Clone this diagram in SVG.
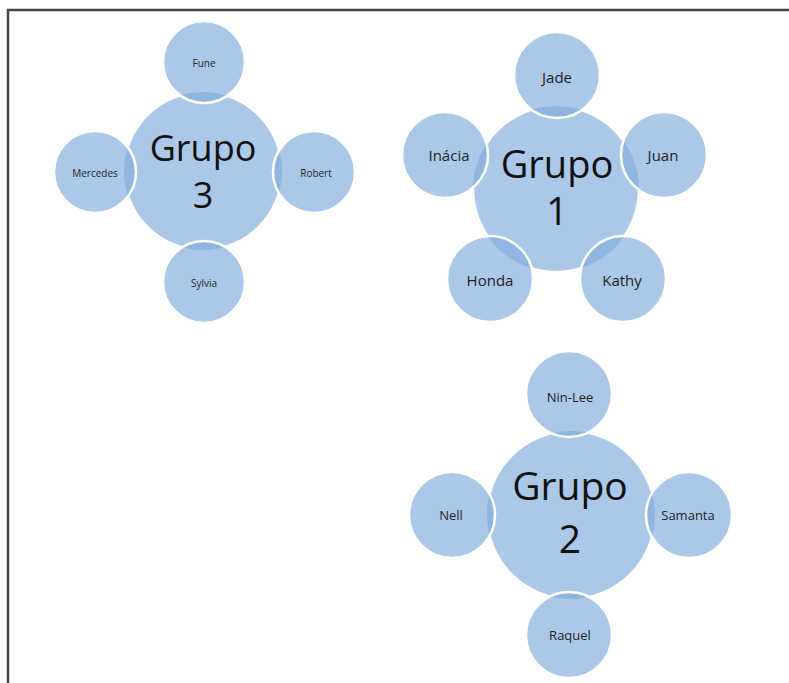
<svg xmlns="http://www.w3.org/2000/svg" width="789" height="683" viewBox="0 0 789 683">
<style>
.hub{fill:#abc8e9;stroke:#ffffff;stroke-width:2.5}
.sat{fill:#abc8e9}
.lens{fill:#8fb5e0}
.ring{fill:none;stroke:#ffffff;stroke-width:2.5}
.t{font-family:"Open Sans","Noto Sans",sans-serif;fill:#1e1e1e;text-anchor:middle}
.big{font-family:"Open Sans","Noto Sans",sans-serif;fill:#111;text-anchor:middle}
.lbl{dominant-baseline:central}
</style>
<defs>
<clipPath id="c3"><circle cx="203" cy="171" r="79"/></clipPath>
<clipPath id="c1"><circle cx="556" cy="189" r="83"/></clipPath>
<clipPath id="c2"><circle cx="571" cy="515" r="84"/></clipPath>
</defs>
<rect width="789" height="683" fill="#ffffff"/>
<path d="M8,683 V10 H789" fill="none" stroke="#444" stroke-width="2.5"/>
<g id="connectors"/>

<!-- Grupo 3 -->
<g id="grupo3">
<circle class="hub" cx="203" cy="171" r="79"/>
<text class="big" x="203" y="161" font-size="36">Grupo</text>
<text class="big" x="203" y="208" font-size="36">3</text>
</g>
<g id="fune"><circle class="sat" cx="204" cy="62" r="41"/><circle class="lens" cx="204" cy="62" r="41" clip-path="url(#c3)"/><circle class="ring" cx="204" cy="62" r="41"/><text class="t lbl" x="204" y="63" font-size="10">Fune</text></g>
<g id="mercedes"><circle class="sat" cx="95" cy="172" r="41"/><circle class="lens" cx="95" cy="172" r="41" clip-path="url(#c3)"/><circle class="ring" cx="95" cy="172" r="41"/><text class="t lbl" x="95" y="173" font-size="10">Mercedes</text></g>
<g id="robert"><circle class="sat" cx="314" cy="172" r="41"/><circle class="lens" cx="314" cy="172" r="41" clip-path="url(#c3)"/><circle class="ring" cx="314" cy="172" r="41"/><text class="t lbl" x="316" y="173" font-size="10">Robert</text></g>
<g id="sylvia"><circle class="sat" cx="204" cy="282" r="41"/><circle class="lens" cx="204" cy="282" r="41" clip-path="url(#c3)"/><circle class="ring" cx="204" cy="282" r="41"/><text class="t lbl" x="204" y="283" font-size="10">Sylvia</text></g>

<!-- Grupo 1 -->
<g id="grupo1">
<circle class="hub" cx="556" cy="189" r="83"/>
<text class="big" x="557" y="178" font-size="38">Grupo</text>
<text class="big" x="557" y="225" font-size="38">1</text>
</g>
<g id="jade"><circle class="sat" cx="557" cy="75" r="43"/><circle class="lens" cx="557" cy="75" r="43" clip-path="url(#c1)"/><circle class="ring" cx="557" cy="75" r="43"/><text class="t lbl" x="557" y="77" font-size="15">Jade</text></g>
<g id="inacia"><circle class="sat" cx="445" cy="155" r="43"/><circle class="lens" cx="445" cy="155" r="43" clip-path="url(#c1)"/><circle class="ring" cx="445" cy="155" r="43"/><text class="t lbl" x="449" y="155" font-size="15">Inácia</text></g>
<g id="juan"><circle class="sat" cx="664" cy="155" r="43"/><circle class="lens" cx="664" cy="155" r="43" clip-path="url(#c1)"/><circle class="ring" cx="664" cy="155" r="43"/><text class="t lbl" x="663" y="155" font-size="15">Juan</text></g>
<g id="honda"><circle class="sat" cx="490" cy="279" r="43"/><circle class="lens" cx="490" cy="279" r="43" clip-path="url(#c1)"/><circle class="ring" cx="490" cy="279" r="43"/><text class="t lbl" x="490" y="280" font-size="15">Honda</text></g>
<g id="kathy"><circle class="sat" cx="623" cy="279" r="43"/><circle class="lens" cx="623" cy="279" r="43" clip-path="url(#c1)"/><circle class="ring" cx="623" cy="279" r="43"/><text class="t lbl" x="622" y="280" font-size="15">Kathy</text></g>

<!-- Grupo 2 -->
<g id="grupo2">
<circle class="hub" cx="571" cy="515" r="84"/>
<text class="big" x="570" y="500" font-size="39">Grupo</text>
<text class="big" x="570" y="553" font-size="39">2</text>
</g>
<g id="ninlee"><circle class="sat" cx="569" cy="394" r="43"/><circle class="lens" cx="569" cy="394" r="43" clip-path="url(#c2)"/><circle class="ring" cx="569" cy="394" r="43"/><text class="t lbl" x="570" y="397" font-size="13">Nin-Lee</text></g>
<g id="nell"><circle class="sat" cx="452" cy="515" r="43"/><circle class="lens" cx="452" cy="515" r="43" clip-path="url(#c2)"/><circle class="ring" cx="452" cy="515" r="43"/><text class="t lbl" x="451" y="515" font-size="13">Nell</text></g>
<g id="samanta"><circle class="sat" cx="689" cy="515" r="43"/><circle class="lens" cx="689" cy="515" r="43" clip-path="url(#c2)"/><circle class="ring" cx="689" cy="515" r="43"/><text class="t lbl" x="688" y="515" font-size="13">Samanta</text></g>
<g id="raquel"><circle class="sat" cx="569" cy="635" r="43"/><circle class="lens" cx="569" cy="635" r="43" clip-path="url(#c2)"/><circle class="ring" cx="569" cy="635" r="43"/><text class="t lbl" x="570" y="635" font-size="13">Raquel</text></g>
</svg>
